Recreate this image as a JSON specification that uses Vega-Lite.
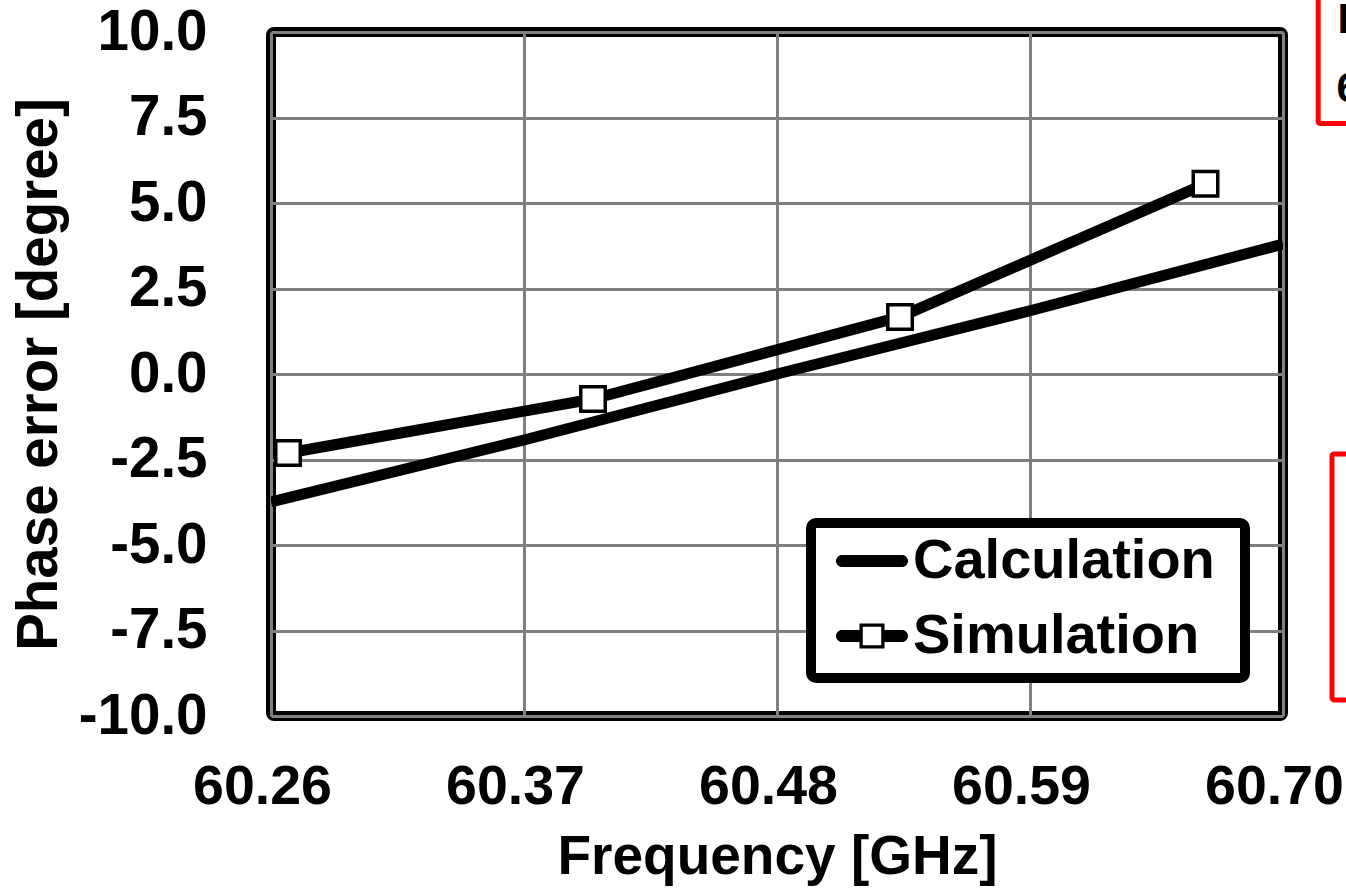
{
  "$schema": "https://vega.github.io/schema/vega-lite/v6.json",
  "width": 1012,
  "height": 684,
  "autosize": {"type": "none"},
  "padding": {"left": 271, "top": 32, "right": 63, "bottom": 173},
  "background": "white",
  "config": {
    "view": {"stroke": "black", "strokeWidth": 10, "cornerRadius": 3},
    "font": "Liberation Sans",
    "legend": {"strokeWidth": 10, "strokeColor": "black"},
    "axis": {
      "labelFont": "Liberation Sans",
      "labelFontWeight": "bold",
      "labelColor": "black",
      "titleFont": "Liberation Sans",
      "titleFontWeight": "bold",
      "titleColor": "black",
      "ticks": false,
      "tickSize": 0,
      "domain": false,
      "grid": true,
      "gridColor": "#808080",
      "gridWidth": 3,
      "labelOverlap": false,
      "labelBound": false,
      "labelFlush": false
    }
  },
  "datasets": {
    "curves": [
      {"series": "Calculation", "freq": 60.26, "phase": -3.74},
      {"series": "Calculation", "freq": 60.37, "phase": -1.93},
      {"series": "Calculation", "freq": 60.48, "phase": 0.0},
      {"series": "Calculation", "freq": 60.59, "phase": 1.85},
      {"series": "Calculation", "freq": 60.7, "phase": 3.8},
      {"series": "Simulation", "freq": 60.2674, "phase": -2.31},
      {"series": "Simulation", "freq": 60.4, "phase": -0.73},
      {"series": "Simulation", "freq": 60.5335, "phase": 1.67},
      {"series": "Simulation", "freq": 60.6663, "phase": 5.56}
    ],
    "boxes": [
      {"freq": 60.7153, "freq2": 60.8, "phase": 7.325, "phase2": 12},
      {"freq": 60.7213, "freq2": 60.8, "phase": -2.339, "phase2": -9.53}
    ],
    "notes": [
      {"freq": 60.7237, "phase": 9.97, "note": "I"},
      {"freq": 60.7233, "phase": 7.95, "note": "6"}
    ]
  },
  "encoding": {
    "x": {
      "field": "freq",
      "type": "quantitative",
      "scale": {"domain": [60.26, 60.7], "nice": false, "zero": false},
      "axis": {
        "title": "Frequency [GHz]",
        "values": [60.26, 60.37, 60.48, 60.59, 60.7],
        "format": ".2f",
        "labelFontSize": 55.5,
        "labelPadding": 43,
        "labelOffset": -9,
        "titleFontSize": 55,
        "titleBaseline": "alphabetic",
        "titleY": 157
      }
    },
    "y": {
      "field": "phase",
      "type": "quantitative",
      "scale": {"domain": [-10, 10], "nice": false, "zero": false},
      "axis": {
        "title": "Phase error [degree]",
        "values": [-10, -7.5, -5, -2.5, 0, 2.5, 5, 7.5, 10],
        "labelExpr": "(datum.value < 0 ? '-' : '') + format(abs(datum.value), '.1f')",
        "labelFontSize": 56.5,
        "labelPadding": 64,
        "titleFontSize": 56.5,
        "titleBaseline": "alphabetic",
        "titleAngle": 270,
        "titleX": -215
      }
    }
  },
  "layer": [
    {
      "data": {"name": "curves"},
      "transform": [{"filter": "datum.series === 'Calculation'"}],
      "mark": {"type": "line", "color": "black", "strokeWidth": 11, "clip": true}
    },
    {
      "data": {"name": "curves"},
      "transform": [{"filter": "datum.series === 'Simulation'"}],
      "mark": {"type": "line", "color": "black", "strokeWidth": 11, "strokeJoin": "round", "clip": true}
    },
    {
      "data": {"name": "curves"},
      "transform": [{"filter": "datum.series === 'Simulation'"}],
      "mark": {"type": "point", "shape": "square", "size": 600, "filled": true, "fill": "white", "stroke": "black", "strokeWidth": 3.5, "opacity": 1, "clip": false}
    },
    {
      "data": {"name": "curves"},
      "mark": {"type": "point", "filled": true, "color": "black", "opacity": 0, "size": 5184},
      "encoding": {
        "shape": {
          "field": "series",
          "type": "nominal",
          "scale": {
            "domain": ["Calculation", "Simulation"],
            "range": [
              "M-0.833,-0.167H0.833A0.167,0.167 0 0 1 0.833,0.167H-0.833A0.167,0.167 0 0 1 -0.833,-0.167Z M10.25,0",
              "M-0.833,-0.167H-0.34V0.167H-0.833A0.167,0.167 0 0 1 -0.833,-0.167Z M0.34,-0.167H0.833A0.167,0.167 0 0 1 0.833,0.167H0.34Z M-0.347,-0.347H0.347V0.347H-0.347Z M-0.256,-0.256V0.256H0.256V-0.256Z M0,1.03"
            ]
          },
          "legend": {
            "title": null,
            "orient": "none",
            "legendX": 540,
            "legendY": 491,
            "direction": "vertical",
            "cornerRadius": 5,
            "fillColor": "white",
            "strokeColor": "black",
            "padding": 1,
            "rowPadding": 10,
            "symbolOffset": 23,
            "labelOffset": 4,
            "symbolSize": 5184,
            "labelFont": "Liberation Sans",
            "labelFontSize": 56,
            "labelFontWeight": "bold",
            "labelColor": "black",
            "labelLimit": 0,
            "encode": {
              "symbols": {
                "update": {
                  "opacity": {"value": 1},
                  "fill": {"value": "black"},
                  "fillOpacity": {"value": 1},
                  "stroke": {"value": "transparent"},
                  "strokeWidth": {"value": 0},
                  "size": {"value": 5184}
                }
              }
            }
          }
        }
      }
    },
    {
      "data": {"name": "boxes"},
      "mark": {"type": "rect", "fill": "white", "fillOpacity": 0, "stroke": "#ff0000", "strokeWidth": 5, "cornerRadius": 2, "clip": false},
      "encoding": {
        "x2": {"field": "freq2"},
        "y2": {"field": "phase2"}
      }
    },
    {
      "data": {"name": "notes"},
      "mark": {"type": "text", "font": "Liberation Sans", "fontWeight": "bold", "fontSize": 42, "align": "left", "baseline": "alphabetic", "color": "black", "clip": false},
      "encoding": {
        "text": {"field": "note"}
      }
    }
  ]
}
